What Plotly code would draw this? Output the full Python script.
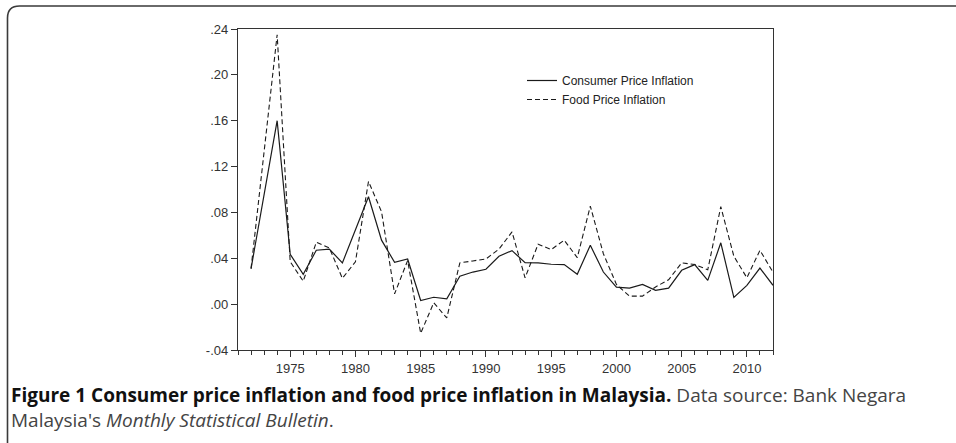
import plotly.graph_objects as go

years = list(range(1972, 2013))

cpi_inflation = [
    0.031, 0.095, 0.160, 0.0435, 0.026, 0.047, 0.048, 0.036, 0.0645, 0.0937,
    0.0558, 0.0365, 0.0394, 0.0032, 0.006, 0.0047, 0.0243, 0.028, 0.0304, 0.0418,
    0.0467, 0.0362, 0.036, 0.0348, 0.0345, 0.026, 0.0514, 0.028, 0.0149, 0.014,
    0.0172, 0.012, 0.014, 0.0295, 0.0345, 0.0207, 0.0535, 0.0059, 0.0164, 0.0315,
    0.0164,
]

food_inflation = [
    0.031, 0.133, 0.235, 0.037, 0.020, 0.054, 0.049, 0.0225, 0.037, 0.107,
    0.0806, 0.009, 0.038, -0.0254, 0.0012, -0.012, 0.036, 0.0377, 0.0394, 0.048,
    0.063, 0.023, 0.0523, 0.0476, 0.0558, 0.0406, 0.0855, 0.044, 0.0172, 0.007,
    0.007, 0.015, 0.0213, 0.036, 0.0346, 0.030, 0.085, 0.0418, 0.023, 0.047,
    0.0278,
]

y_ticks = [-0.04, 0.0, 0.04, 0.08, 0.12, 0.16, 0.20, 0.24]
y_tick_labels = ["-.04", ".00", ".04", ".08", ".12", ".16", ".20", ".24"]
x_ticks = [1975, 1980, 1985, 1990, 1995, 2000, 2005, 2010]

W, H = 956, 443
L, R, T, B = 238, 773, 29, 350


def px(x):
    return (x - L) / (R - L)


def py(y):
    return (B - y) / (B - T)


fig = go.Figure()

fig.add_trace(
    go.Scatter(
        x=years,
        y=cpi_inflation,
        mode="lines",
        name="Consumer Price Inflation",
        line={"color": "#1a1a1a", "width": 1.2},
    )
)
fig.add_trace(
    go.Scatter(
        x=years,
        y=food_inflation,
        mode="lines",
        name="Food Price Inflation",
        line={"color": "#1a1a1a", "width": 1.1, "dash": "5px,3px"},
    )
)

axis_font = {"family": "Liberation Sans, Arial, sans-serif", "size": 13, "color": "#333333"}

fig.update_layout(
    width=W,
    height=H,
    margin={"l": L, "r": W - R, "t": T, "b": H - B},
    paper_bgcolor="white",
    plot_bgcolor="white",
    showlegend=True,
    legend={
        "x": px(522),
        "y": py(66),
        "xanchor": "left",
        "yanchor": "top",
        "bgcolor": "rgba(0,0,0,0)",
        "font": {"family": "Liberation Sans, Arial, sans-serif", "size": 12, "color": "#222222"},
        "tracegroupgap": 0,
    },
    xaxis={
        "range": [1971, 2012],
        "tickvals": x_ticks,
        "ticks": "outside",
        "ticklen": 6,
        "tickwidth": 1,
        "tickcolor": "#333333",
        "minor": {"dtick": 1, "tick0": 1971, "ticks": "outside", "ticklen": 4, "tickcolor": "#333333"},
        "showline": True,
        "linecolor": "#333333",
        "linewidth": 1.3,
        "mirror": True,
        "showgrid": False,
        "zeroline": False,
        "tickfont": axis_font,
    },
    yaxis={
        "range": [-0.04, 0.24],
        "tickvals": y_ticks,
        "ticktext": y_tick_labels,
        "ticks": "outside",
        "ticklen": 6,
        "tickwidth": 1,
        "tickcolor": "#333333",
        "showline": True,
        "linecolor": "#333333",
        "linewidth": 1.3,
        "mirror": True,
        "showgrid": False,
        "zeroline": False,
        "tickfont": axis_font,
    },
)

# rounded frame of the figure panel
fig.add_shape(
    type="path",
    xref="paper",
    yref="paper",
    path=(
        f"M {px(7.5)} {py(446)} L {px(7.5)} {py(18)} "
        f"Q {px(7.5)} {py(6)} {px(19.5)} {py(6)} L {px(960)} {py(6)}"
    ),
    line={"color": "#3a3a3a", "width": 1.6},
)

caption_font = {"family": "Open Sans, sans-serif", "size": 19, "color": "#444444"}
fig.add_annotation(
    xref="paper",
    yref="paper",
    x=px(9),
    y=py(380),
    xanchor="left",
    yanchor="top",
    align="left",
    showarrow=False,
    font=caption_font,
    text=(
        "<b><span style='color:#111111'>Figure 1 Consumer price inflation and food price inflation in Malaysia.</span></b>"
        " Data source: Bank Negara<br>Malaysia's <i>Monthly Statistical Bulletin</i>."
    ),
)

fig.write_html(
    "out.html",
    config={"displayModeBar": False},
    post_script="document.body.style.margin='0';document.body.style.overflow='hidden';",
)
